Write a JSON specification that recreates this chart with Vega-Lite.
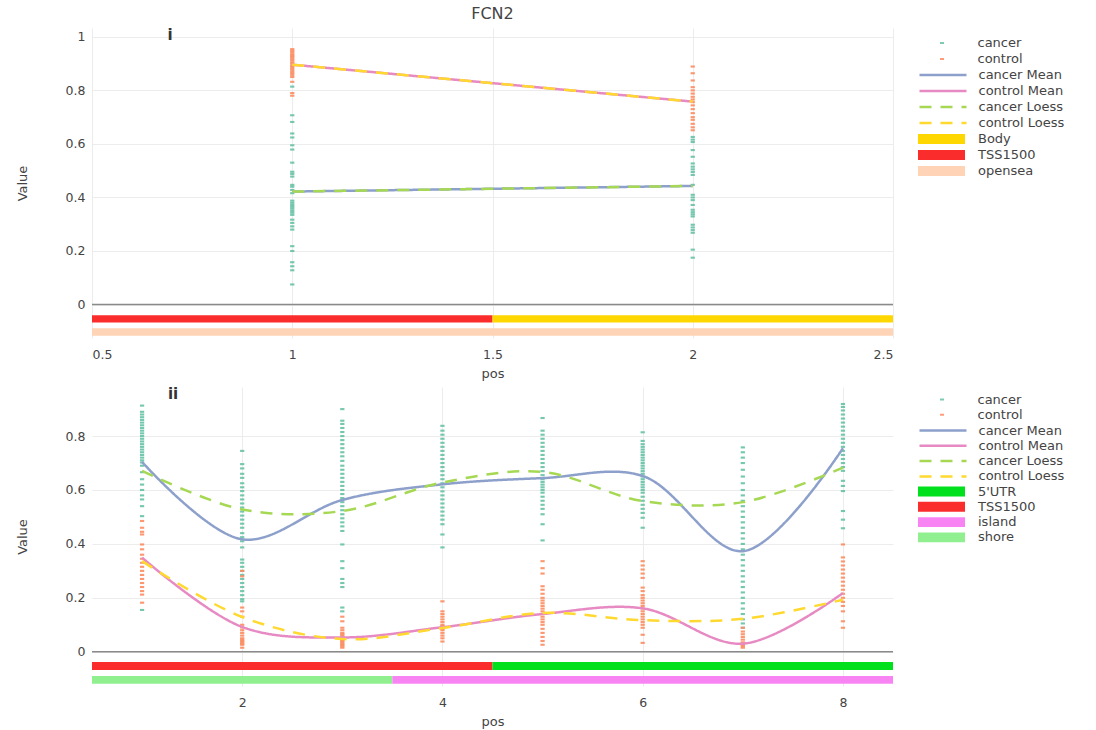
{
  "$schema": "https://vega.github.io/schema/vega-lite/v6.json",
  "background": "white",
  "padding": {"left": 16, "top": 5, "right": 0, "bottom": 0},
  "spacing": 6,
  "config": {
    "view": {"stroke": null},
    "font": "DejaVu Sans",
    "axis": {"labelFont": "DejaVu Sans", "labelFontSize": 12.5, "labelColor": "#444", "titleFont": "DejaVu Sans", "titleFontSize": 13, "titleFontWeight": "normal", "titleColor": "#444", "gridColor": "#ececec", "gridWidth": 1, "domain": false, "ticks": false},
    "axisY": {"labelPadding": 7, "titlePadding": 36},
    "axisX": {"labelPadding": 10, "titlePadding": 7},
    "legend": {"labelFont": "DejaVu Sans", "labelFontSize": 13, "labelColor": "#444", "padding": 0, "offset": 25, "rowPadding": 0, "orient": "right", "layout": {"right": {"margin": 0, "anchor": "start", "direction": "vertical"}}}
  },
  "vconcat": [
    {
      "width": 801,
      "height": 310,
      "title": {"text": "FCN2", "anchor": "middle", "frame": "group", "fontSize": 16, "fontWeight": "normal", "color": "#444", "font": "DejaVu Sans", "offset": 6},
      "resolve": {"scale": {"color": "independent", "strokeDash": "independent"}, "legend": {"color": "independent", "strokeDash": "independent"}},
      "encoding": {
        "x": {"type": "quantitative", "scale": {"domain": [0.5, 2.5], "nice": false, "zero": false}, "axis": {"title": "pos", "values": [0.5, 1, 1.5, 2, 2.5], "format": "~g"}},
        "y": {"type": "quantitative", "scale": {"domain": [-0.125, 1.033], "nice": false, "zero": false}, "axis": {"title": "Value", "values": [0, 0.2, 0.4, 0.6, 0.8, 1], "format": "~g"}}
      },
      "layer": [
        {
          "data": {"values": [{"z": 0}]},
          "mark": {"type": "rule", "color": "#8a8a8a", "strokeWidth": 1.5},
          "encoding": {"y": {"field": "z", "type": "quantitative"}}
        },
        {
          "data": {"values": [
            {"p":1,"g":"control","v":0.954},{"p":1,"g":"control","v":0.948},{"p":1,"g":"control","v":0.942},{"p":1,"g":"control","v":0.935},{"p":1,"g":"control","v":0.93},{"p":1,"g":"control","v":0.925},{"p":1,"g":"control","v":0.918},{"p":1,"g":"control","v":0.912},{"p":1,"g":"control","v":0.905},{"p":1,"g":"control","v":0.9},{"p":1,"g":"control","v":0.893},{"p":1,"g":"control","v":0.887},{"p":1,"g":"control","v":0.88},{"p":1,"g":"control","v":0.872},{"p":1,"g":"control","v":0.865},{"p":1,"g":"control","v":0.858},{"p":1,"g":"control","v":0.85},{"p":1,"g":"control","v":0.832},{"p":1,"g":"control","v":0.79},{"p":1,"g":"control","v":0.78},
            {"p":1,"g":"cancer","v":0.814},{"p":1,"g":"cancer","v":0.707},{"p":1,"g":"cancer","v":0.682},{"p":1,"g":"cancer","v":0.639},{"p":1,"g":"cancer","v":0.624},{"p":1,"g":"cancer","v":0.595},{"p":1,"g":"cancer","v":0.579},{"p":1,"g":"cancer","v":0.53},{"p":1,"g":"cancer","v":0.496},{"p":1,"g":"cancer","v":0.488},{"p":1,"g":"cancer","v":0.478},{"p":1,"g":"cancer","v":0.447},{"p":1,"g":"cancer","v":0.44},{"p":1,"g":"cancer","v":0.428},{"p":1,"g":"cancer","v":0.416},{"p":1,"g":"cancer","v":0.388},{"p":1,"g":"cancer","v":0.38},{"p":1,"g":"cancer","v":0.372},{"p":1,"g":"cancer","v":0.365},{"p":1,"g":"cancer","v":0.358},{"p":1,"g":"cancer","v":0.35},{"p":1,"g":"cancer","v":0.343},{"p":1,"g":"cancer","v":0.335},{"p":1,"g":"cancer","v":0.317},{"p":1,"g":"cancer","v":0.305},{"p":1,"g":"cancer","v":0.292},{"p":1,"g":"cancer","v":0.28},{"p":1,"g":"cancer","v":0.218},{"p":1,"g":"cancer","v":0.2},{"p":1,"g":"cancer","v":0.158},{"p":1,"g":"cancer","v":0.143},{"p":1,"g":"cancer","v":0.128},{"p":1,"g":"cancer","v":0.075},
            {"p":2,"g":"control","v":0.889},{"p":2,"g":"control","v":0.864},{"p":2,"g":"control","v":0.837},{"p":2,"g":"control","v":0.812},{"p":2,"g":"control","v":0.8},{"p":2,"g":"control","v":0.788},{"p":2,"g":"control","v":0.776},{"p":2,"g":"control","v":0.766},{"p":2,"g":"control","v":0.756},{"p":2,"g":"control","v":0.744},{"p":2,"g":"control","v":0.73},{"p":2,"g":"control","v":0.715},{"p":2,"g":"control","v":0.7},{"p":2,"g":"control","v":0.69},{"p":2,"g":"control","v":0.675},{"p":2,"g":"control","v":0.662},{"p":2,"g":"control","v":0.651},
            {"p":2,"g":"cancer","v":0.626},{"p":2,"g":"cancer","v":0.616},{"p":2,"g":"cancer","v":0.607},{"p":2,"g":"cancer","v":0.577},{"p":2,"g":"cancer","v":0.552},{"p":2,"g":"cancer","v":0.527},{"p":2,"g":"cancer","v":0.515},{"p":2,"g":"cancer","v":0.505},{"p":2,"g":"cancer","v":0.495},{"p":2,"g":"cancer","v":0.484},{"p":2,"g":"cancer","v":0.447},{"p":2,"g":"cancer","v":0.41},{"p":2,"g":"cancer","v":0.4},{"p":2,"g":"cancer","v":0.39},{"p":2,"g":"cancer","v":0.372},{"p":2,"g":"cancer","v":0.354},{"p":2,"g":"cancer","v":0.345},{"p":2,"g":"cancer","v":0.337},{"p":2,"g":"cancer","v":0.329},{"p":2,"g":"cancer","v":0.298},{"p":2,"g":"cancer","v":0.288},{"p":2,"g":"cancer","v":0.278},{"p":2,"g":"cancer","v":0.268},{"p":2,"g":"cancer","v":0.205},{"p":2,"g":"cancer","v":0.175}
          ]},
          "mark": {"type": "point", "shape": "M-1,-0.5H1V0.5H-1Z", "filled": true, "size": 18, "opacity": 0.9},
          "encoding": {
            "x": {"field": "p", "type": "quantitative"},
            "y": {"field": "v", "type": "quantitative"},
            "color": {"field": "g", "type": "nominal", "scale": {"domain": ["cancer", "control"], "range": ["#66c2a5", "#fc8d62"]}, "legend": {"title": " ", "titleFontSize": 1, "titlePadding": 6, "symbolType": "M-1,-0.5H1V0.5H-1Z", "symbolSize": 16, "clipHeight": 16, "symbolOffset": 17.5, "labelOffset": 29, "symbolOpacity": 0.85}}
          }
        },
        {
          "data": {"values": [
            {"p":1,"s":"cancer Mean","v":0.422},{"p":2,"s":"cancer Mean","v":0.443},
            {"p":1,"s":"control Mean","v":0.896},{"p":2,"s":"control Mean","v":0.758},
            {"p":1,"s":"cancer Loess","v":0.422},{"p":2,"s":"cancer Loess","v":0.443},
            {"p":1,"s":"control Loess","v":0.896},{"p":2,"s":"control Loess","v":0.758}
          ]},
          "mark": {"type": "line", "strokeWidth": 2.5},
          "encoding": {
            "x": {"field": "p", "type": "quantitative"},
            "y": {"field": "v", "type": "quantitative"},
            "color": {"field": "s", "type": "nominal", "sort": null, "scale": {"domain": ["cancer Mean", "control Mean", "cancer Loess", "control Loess"], "range": ["#8da0cb", "#e78ac3", "#a6d854", "#ffd92f"]}, "legend": {"title": null, "symbolType": "stroke", "symbolSize": 2209, "symbolStrokeWidth": 2.5, "clipHeight": 16, "labelOffset": 10.5}},
            "strokeDash": {"field": "s", "type": "nominal", "sort": null, "scale": {"domain": ["cancer Mean", "control Mean", "cancer Loess", "control Loess"], "range": [[1, 0], [1, 0], [12, 9], [12, 9]]}, "legend": {"title": null, "symbolType": "stroke", "symbolSize": 2209, "symbolStrokeWidth": 2.5, "clipHeight": 16, "labelOffset": 10.5}}
          }
        },
        {
          "data": {"values": [
            {"x1":0.5,"x2":1.5,"y1":-0.04,"y2":-0.067,"r":"TSS1500"},
            {"x1":1.5,"x2":2.5,"y1":-0.04,"y2":-0.067,"r":"Body"},
            {"x1":0.5,"x2":2.5,"y1":-0.089,"y2":-0.117,"r":"opensea"}
          ]},
          "mark": {"type": "rect"},
          "encoding": {
            "x": {"field": "x1", "type": "quantitative"},
            "x2": {"field": "x2"},
            "y": {"field": "y1", "type": "quantitative"},
            "y2": {"field": "y2"},
            "color": {"field": "r", "type": "nominal", "scale": {"domain": ["Body", "TSS1500", "opensea"], "range": ["#ffd700", "#fb2c2c", "#ffd3b6"]}, "legend": {"title": null, "symbolType": "M-1,-0.21H1V0.21H-1Z", "symbolSize": 2209, "symbolStrokeWidth": 0, "clipHeight": 16, "labelOffset": 13}}
          }
        },
        {
          "data": {"values": [{"x": 0.695, "y": 1.008, "t": "i"}]},
          "mark": {"type": "text", "fontWeight": "bold", "fontSize": 15, "color": "#333", "baseline": "middle", "align": "center"},
          "encoding": {"x": {"field": "x", "type": "quantitative"}, "y": {"field": "y", "type": "quantitative"}, "text": {"field": "t"}}
        }
      ]
    },
    {
      "width": 801,
      "height": 299,
      "resolve": {"scale": {"color": "independent", "strokeDash": "independent"}, "legend": {"color": "independent", "strokeDash": "independent"}},
      "encoding": {
        "x": {"type": "quantitative", "scale": {"domain": [0.5, 8.5], "nice": false, "zero": false}, "axis": {"title": "pos", "values": [2, 4, 6, 8], "format": "~g"}},
        "y": {"type": "quantitative", "scale": {"domain": [-0.127, 0.982], "nice": false, "zero": false}, "axis": {"title": "Value", "values": [0, 0.2, 0.4, 0.6, 0.8], "format": "~g"}}
      },
      "layer": [
        {
          "data": {"values": [{"z": 0}]},
          "mark": {"type": "rule", "color": "#8a8a8a", "strokeWidth": 1.5},
          "encoding": {"y": {"field": "z", "type": "quantitative"}}
        },
        {
          "data": {"values": [
            {"p":1,"g":"cancer","v":0.913},{"p":1,"g":"cancer","v":0.89},{"p":1,"g":"cancer","v":0.88},{"p":1,"g":"cancer","v":0.87},{"p":1,"g":"cancer","v":0.86},{"p":1,"g":"cancer","v":0.85},{"p":1,"g":"cancer","v":0.84},{"p":1,"g":"cancer","v":0.83},{"p":1,"g":"cancer","v":0.82},{"p":1,"g":"cancer","v":0.81},{"p":1,"g":"cancer","v":0.8},{"p":1,"g":"cancer","v":0.79},{"p":1,"g":"cancer","v":0.78},{"p":1,"g":"cancer","v":0.77},{"p":1,"g":"cancer","v":0.76},{"p":1,"g":"cancer","v":0.75},{"p":1,"g":"cancer","v":0.74},{"p":1,"g":"cancer","v":0.73},{"p":1,"g":"cancer","v":0.72},{"p":1,"g":"cancer","v":0.71},{"p":1,"g":"cancer","v":0.702},{"p":1,"g":"cancer","v":0.69},{"p":1,"g":"cancer","v":0.666},{"p":1,"g":"cancer","v":0.64},{"p":1,"g":"cancer","v":0.62},{"p":1,"g":"cancer","v":0.6},{"p":1,"g":"cancer","v":0.58},{"p":1,"g":"cancer","v":0.565},{"p":1,"g":"cancer","v":0.54},{"p":1,"g":"cancer","v":0.503},{"p":1,"g":"cancer","v":0.155},
            {"p":1,"g":"control","v":0.485},{"p":1,"g":"control","v":0.46},{"p":1,"g":"control","v":0.445},{"p":1,"g":"control","v":0.435},{"p":1,"g":"control","v":0.398},{"p":1,"g":"control","v":0.38},{"p":1,"g":"control","v":0.36},{"p":1,"g":"control","v":0.345},{"p":1,"g":"control","v":0.33},{"p":1,"g":"control","v":0.315},{"p":1,"g":"control","v":0.3},{"p":1,"g":"control","v":0.285},{"p":1,"g":"control","v":0.27},{"p":1,"g":"control","v":0.255},{"p":1,"g":"control","v":0.24},{"p":1,"g":"control","v":0.225},{"p":1,"g":"control","v":0.212},{"p":1,"g":"control","v":0.182},
            {"p":2,"g":"cancer","v":0.745},{"p":2,"g":"cancer","v":0.696},{"p":2,"g":"cancer","v":0.68},{"p":2,"g":"cancer","v":0.66},{"p":2,"g":"cancer","v":0.645},{"p":2,"g":"cancer","v":0.625},{"p":2,"g":"cancer","v":0.61},{"p":2,"g":"cancer","v":0.596},{"p":2,"g":"cancer","v":0.58},{"p":2,"g":"cancer","v":0.565},{"p":2,"g":"cancer","v":0.55},{"p":2,"g":"cancer","v":0.535},{"p":2,"g":"cancer","v":0.52},{"p":2,"g":"cancer","v":0.505},{"p":2,"g":"cancer","v":0.49},{"p":2,"g":"cancer","v":0.475},{"p":2,"g":"cancer","v":0.46},{"p":2,"g":"cancer","v":0.44},{"p":2,"g":"cancer","v":0.425},{"p":2,"g":"cancer","v":0.41},{"p":2,"g":"cancer","v":0.387},{"p":2,"g":"cancer","v":0.342},{"p":2,"g":"cancer","v":0.33},{"p":2,"g":"cancer","v":0.315},{"p":2,"g":"cancer","v":0.3},{"p":2,"g":"cancer","v":0.285},{"p":2,"g":"cancer","v":0.27},{"p":2,"g":"cancer","v":0.255},{"p":2,"g":"cancer","v":0.24},{"p":2,"g":"cancer","v":0.225},{"p":2,"g":"cancer","v":0.21},{"p":2,"g":"cancer","v":0.195},{"p":2,"g":"cancer","v":0.187},
            {"p":2,"g":"control","v":0.3},{"p":2,"g":"control","v":0.28},{"p":2,"g":"control","v":0.164},{"p":2,"g":"control","v":0.15},{"p":2,"g":"control","v":0.13},{"p":2,"g":"control","v":0.1},{"p":2,"g":"control","v":0.09},{"p":2,"g":"control","v":0.08},{"p":2,"g":"control","v":0.07},{"p":2,"g":"control","v":0.06},{"p":2,"g":"control","v":0.05},{"p":2,"g":"control","v":0.045},{"p":2,"g":"control","v":0.04},{"p":2,"g":"control","v":0.035},{"p":2,"g":"control","v":0.03},{"p":2,"g":"control","v":0.026},{"p":2,"g":"control","v":0.015},
            {"p":3,"g":"cancer","v":0.9},{"p":3,"g":"cancer","v":0.857},{"p":3,"g":"cancer","v":0.845},{"p":3,"g":"cancer","v":0.83},{"p":3,"g":"cancer","v":0.815},{"p":3,"g":"cancer","v":0.8},{"p":3,"g":"cancer","v":0.785},{"p":3,"g":"cancer","v":0.77},{"p":3,"g":"cancer","v":0.755},{"p":3,"g":"cancer","v":0.74},{"p":3,"g":"cancer","v":0.725},{"p":3,"g":"cancer","v":0.708},{"p":3,"g":"cancer","v":0.69},{"p":3,"g":"cancer","v":0.675},{"p":3,"g":"cancer","v":0.66},{"p":3,"g":"cancer","v":0.645},{"p":3,"g":"cancer","v":0.63},{"p":3,"g":"cancer","v":0.615},{"p":3,"g":"cancer","v":0.6},{"p":3,"g":"cancer","v":0.585},{"p":3,"g":"cancer","v":0.57},{"p":3,"g":"cancer","v":0.555},{"p":3,"g":"cancer","v":0.54},{"p":3,"g":"cancer","v":0.525},{"p":3,"g":"cancer","v":0.51},{"p":3,"g":"cancer","v":0.495},{"p":3,"g":"cancer","v":0.48},{"p":3,"g":"cancer","v":0.465},{"p":3,"g":"cancer","v":0.448},{"p":3,"g":"cancer","v":0.398},{"p":3,"g":"cancer","v":0.336},{"p":3,"g":"cancer","v":0.31},{"p":3,"g":"cancer","v":0.27},{"p":3,"g":"cancer","v":0.255},{"p":3,"g":"cancer","v":0.24},{"p":3,"g":"cancer","v":0.164},{"p":3,"g":"cancer","v":0.15},
            {"p":3,"g":"control","v":0.13},{"p":3,"g":"control","v":0.113},{"p":3,"g":"control","v":0.089},{"p":3,"g":"control","v":0.08},{"p":3,"g":"control","v":0.07},{"p":3,"g":"control","v":0.065},{"p":3,"g":"control","v":0.06},{"p":3,"g":"control","v":0.055},{"p":3,"g":"control","v":0.05},{"p":3,"g":"control","v":0.045},{"p":3,"g":"control","v":0.04},{"p":3,"g":"control","v":0.035},{"p":3,"g":"control","v":0.03},{"p":3,"g":"control","v":0.025},{"p":3,"g":"control","v":0.02},{"p":3,"g":"control","v":0.015},
            {"p":4,"g":"cancer","v":0.838},{"p":4,"g":"cancer","v":0.82},{"p":4,"g":"cancer","v":0.805},{"p":4,"g":"cancer","v":0.79},{"p":4,"g":"cancer","v":0.775},{"p":4,"g":"cancer","v":0.76},{"p":4,"g":"cancer","v":0.745},{"p":4,"g":"cancer","v":0.73},{"p":4,"g":"cancer","v":0.715},{"p":4,"g":"cancer","v":0.7},{"p":4,"g":"cancer","v":0.685},{"p":4,"g":"cancer","v":0.67},{"p":4,"g":"cancer","v":0.655},{"p":4,"g":"cancer","v":0.64},{"p":4,"g":"cancer","v":0.625},{"p":4,"g":"cancer","v":0.61},{"p":4,"g":"cancer","v":0.595},{"p":4,"g":"cancer","v":0.58},{"p":4,"g":"cancer","v":0.565},{"p":4,"g":"cancer","v":0.55},{"p":4,"g":"cancer","v":0.535},{"p":4,"g":"cancer","v":0.52},{"p":4,"g":"cancer","v":0.505},{"p":4,"g":"cancer","v":0.49},{"p":4,"g":"cancer","v":0.473},{"p":4,"g":"cancer","v":0.435},{"p":4,"g":"cancer","v":0.387},
            {"p":4,"g":"control","v":0.187},{"p":4,"g":"control","v":0.15},{"p":4,"g":"control","v":0.14},{"p":4,"g":"control","v":0.13},{"p":4,"g":"control","v":0.12},{"p":4,"g":"control","v":0.11},{"p":4,"g":"control","v":0.1},{"p":4,"g":"control","v":0.095},{"p":4,"g":"control","v":0.09},{"p":4,"g":"control","v":0.085},{"p":4,"g":"control","v":0.08},{"p":4,"g":"control","v":0.07},{"p":4,"g":"control","v":0.06},{"p":4,"g":"control","v":0.05},{"p":4,"g":"control","v":0.038},
            {"p":5,"g":"cancer","v":0.867},{"p":5,"g":"cancer","v":0.82},{"p":5,"g":"cancer","v":0.805},{"p":5,"g":"cancer","v":0.79},{"p":5,"g":"cancer","v":0.775},{"p":5,"g":"cancer","v":0.76},{"p":5,"g":"cancer","v":0.745},{"p":5,"g":"cancer","v":0.73},{"p":5,"g":"cancer","v":0.715},{"p":5,"g":"cancer","v":0.7},{"p":5,"g":"cancer","v":0.685},{"p":5,"g":"cancer","v":0.67},{"p":5,"g":"cancer","v":0.655},{"p":5,"g":"cancer","v":0.64},{"p":5,"g":"cancer","v":0.63},{"p":5,"g":"cancer","v":0.62},{"p":5,"g":"cancer","v":0.61},{"p":5,"g":"cancer","v":0.6},{"p":5,"g":"cancer","v":0.59},{"p":5,"g":"cancer","v":0.575},{"p":5,"g":"cancer","v":0.56},{"p":5,"g":"cancer","v":0.545},{"p":5,"g":"cancer","v":0.53},{"p":5,"g":"cancer","v":0.51},{"p":5,"g":"cancer","v":0.473},{"p":5,"g":"cancer","v":0.413},
            {"p":5,"g":"control","v":0.336},{"p":5,"g":"control","v":0.31},{"p":5,"g":"control","v":0.29},{"p":5,"g":"control","v":0.243},{"p":5,"g":"control","v":0.23},{"p":5,"g":"control","v":0.215},{"p":5,"g":"control","v":0.2},{"p":5,"g":"control","v":0.19},{"p":5,"g":"control","v":0.18},{"p":5,"g":"control","v":0.17},{"p":5,"g":"control","v":0.16},{"p":5,"g":"control","v":0.15},{"p":5,"g":"control","v":0.14},{"p":5,"g":"control","v":0.13},{"p":5,"g":"control","v":0.12},{"p":5,"g":"control","v":0.11},{"p":5,"g":"control","v":0.1},{"p":5,"g":"control","v":0.085},{"p":5,"g":"control","v":0.07},{"p":5,"g":"control","v":0.055},{"p":5,"g":"control","v":0.04},{"p":5,"g":"control","v":0.026},
            {"p":6,"g":"cancer","v":0.814},{"p":6,"g":"cancer","v":0.782},{"p":6,"g":"cancer","v":0.77},{"p":6,"g":"cancer","v":0.76},{"p":6,"g":"cancer","v":0.75},{"p":6,"g":"cancer","v":0.74},{"p":6,"g":"cancer","v":0.73},{"p":6,"g":"cancer","v":0.72},{"p":6,"g":"cancer","v":0.71},{"p":6,"g":"cancer","v":0.7},{"p":6,"g":"cancer","v":0.69},{"p":6,"g":"cancer","v":0.68},{"p":6,"g":"cancer","v":0.67},{"p":6,"g":"cancer","v":0.66},{"p":6,"g":"cancer","v":0.65},{"p":6,"g":"cancer","v":0.64},{"p":6,"g":"cancer","v":0.63},{"p":6,"g":"cancer","v":0.62},{"p":6,"g":"cancer","v":0.61},{"p":6,"g":"cancer","v":0.6},{"p":6,"g":"cancer","v":0.59},{"p":6,"g":"cancer","v":0.575},{"p":6,"g":"cancer","v":0.56},{"p":6,"g":"cancer","v":0.545},{"p":6,"g":"cancer","v":0.53},{"p":6,"g":"cancer","v":0.515},{"p":6,"g":"cancer","v":0.497},{"p":6,"g":"cancer","v":0.46},
            {"p":6,"g":"control","v":0.336},{"p":6,"g":"control","v":0.32},{"p":6,"g":"control","v":0.305},{"p":6,"g":"control","v":0.29},{"p":6,"g":"control","v":0.274},{"p":6,"g":"control","v":0.238},{"p":6,"g":"control","v":0.225},{"p":6,"g":"control","v":0.21},{"p":6,"g":"control","v":0.2},{"p":6,"g":"control","v":0.19},{"p":6,"g":"control","v":0.18},{"p":6,"g":"control","v":0.17},{"p":6,"g":"control","v":0.16},{"p":6,"g":"control","v":0.15},{"p":6,"g":"control","v":0.14},{"p":6,"g":"control","v":0.13},{"p":6,"g":"control","v":0.12},{"p":6,"g":"control","v":0.11},{"p":6,"g":"control","v":0.1},{"p":6,"g":"control","v":0.089},{"p":6,"g":"control","v":0.063},{"p":6,"g":"control","v":0.033},
            {"p":7,"g":"cancer","v":0.758},{"p":7,"g":"cancer","v":0.74},{"p":7,"g":"cancer","v":0.72},{"p":7,"g":"cancer","v":0.7},{"p":7,"g":"cancer","v":0.675},{"p":7,"g":"cancer","v":0.65},{"p":7,"g":"cancer","v":0.625},{"p":7,"g":"cancer","v":0.6},{"p":7,"g":"cancer","v":0.58},{"p":7,"g":"cancer","v":0.56},{"p":7,"g":"cancer","v":0.54},{"p":7,"g":"cancer","v":0.52},{"p":7,"g":"cancer","v":0.5},{"p":7,"g":"cancer","v":0.48},{"p":7,"g":"cancer","v":0.46},{"p":7,"g":"cancer","v":0.44},{"p":7,"g":"cancer","v":0.42},{"p":7,"g":"cancer","v":0.4},{"p":7,"g":"cancer","v":0.38},{"p":7,"g":"cancer","v":0.36},{"p":7,"g":"cancer","v":0.34},{"p":7,"g":"cancer","v":0.32},{"p":7,"g":"cancer","v":0.3},{"p":7,"g":"cancer","v":0.28},{"p":7,"g":"cancer","v":0.26},{"p":7,"g":"cancer","v":0.24},{"p":7,"g":"cancer","v":0.22},{"p":7,"g":"cancer","v":0.2},{"p":7,"g":"cancer","v":0.18},{"p":7,"g":"cancer","v":0.16},{"p":7,"g":"cancer","v":0.14},{"p":7,"g":"cancer","v":0.12},{"p":7,"g":"cancer","v":0.105},{"p":7,"g":"cancer","v":0.089},
            {"p":7,"g":"control","v":0.089},{"p":7,"g":"control","v":0.075},{"p":7,"g":"control","v":0.065},{"p":7,"g":"control","v":0.055},{"p":7,"g":"control","v":0.045},{"p":7,"g":"control","v":0.035},{"p":7,"g":"control","v":0.03},{"p":7,"g":"control","v":0.025},{"p":7,"g":"control","v":0.02},{"p":7,"g":"control","v":0.015},
            {"p":8,"g":"cancer","v":0.919},{"p":8,"g":"cancer","v":0.908},{"p":8,"g":"cancer","v":0.895},{"p":8,"g":"cancer","v":0.88},{"p":8,"g":"cancer","v":0.865},{"p":8,"g":"cancer","v":0.85},{"p":8,"g":"cancer","v":0.835},{"p":8,"g":"cancer","v":0.82},{"p":8,"g":"cancer","v":0.805},{"p":8,"g":"cancer","v":0.79},{"p":8,"g":"cancer","v":0.775},{"p":8,"g":"cancer","v":0.76},{"p":8,"g":"cancer","v":0.745},{"p":8,"g":"cancer","v":0.73},{"p":8,"g":"cancer","v":0.715},{"p":8,"g":"cancer","v":0.7},{"p":8,"g":"cancer","v":0.685},{"p":8,"g":"cancer","v":0.671},{"p":8,"g":"cancer","v":0.634},{"p":8,"g":"cancer","v":0.615},{"p":8,"g":"cancer","v":0.596},{"p":8,"g":"cancer","v":0.522},{"p":8,"g":"cancer","v":0.49},{"p":8,"g":"cancer","v":0.458},
            {"p":8,"g":"control","v":0.398},{"p":8,"g":"control","v":0.35},{"p":8,"g":"control","v":0.335},{"p":8,"g":"control","v":0.32},{"p":8,"g":"control","v":0.305},{"p":8,"g":"control","v":0.29},{"p":8,"g":"control","v":0.275},{"p":8,"g":"control","v":0.26},{"p":8,"g":"control","v":0.245},{"p":8,"g":"control","v":0.23},{"p":8,"g":"control","v":0.215},{"p":8,"g":"control","v":0.2},{"p":8,"g":"control","v":0.185},{"p":8,"g":"control","v":0.17},{"p":8,"g":"control","v":0.15},{"p":8,"g":"control","v":0.113},{"p":8,"g":"control","v":0.089}
          ]},
          "mark": {"type": "point", "shape": "M-1,-0.5H1V0.5H-1Z", "filled": true, "size": 18, "opacity": 0.9},
          "encoding": {
            "x": {"field": "p", "type": "quantitative"},
            "y": {"field": "v", "type": "quantitative"},
            "color": {"field": "g", "type": "nominal", "scale": {"domain": ["cancer", "control"], "range": ["#66c2a5", "#fc8d62"]}, "legend": {"title": " ", "titleFontSize": 1, "titlePadding": 4, "symbolType": "M-1,-0.5H1V0.5H-1Z", "symbolSize": 16, "clipHeight": 15, "rowPadding": 0.3, "symbolOffset": 17.5, "labelOffset": 29, "symbolOpacity": 0.85}}
          }
        },
        {
          "data": {"values": [
            {"p":1,"s":"cancer Mean","v":0.704},{"p":2,"s":"cancer Mean","v":0.417},{"p":3,"s":"cancer Mean","v":0.563},{"p":4,"s":"cancer Mean","v":0.621},{"p":5,"s":"cancer Mean","v":0.644},{"p":6,"s":"cancer Mean","v":0.652},{"p":7,"s":"cancer Mean","v":0.373},{"p":8,"s":"cancer Mean","v":0.755},
            {"p":1,"s":"control Mean","v":0.349},{"p":2,"s":"control Mean","v":0.092},{"p":3,"s":"control Mean","v":0.053},{"p":4,"s":"control Mean","v":0.091},{"p":5,"s":"control Mean","v":0.14},{"p":6,"s":"control Mean","v":0.161},{"p":7,"s":"control Mean","v":0.03},{"p":8,"s":"control Mean","v":0.218},
            {"p":1,"s":"cancer Loess","v":0.671},{"p":2,"s":"cancer Loess","v":0.528},{"p":3,"s":"cancer Loess","v":0.522},{"p":4,"s":"cancer Loess","v":0.628},{"p":5,"s":"cancer Loess","v":0.667},{"p":6,"s":"cancer Loess","v":0.559},{"p":7,"s":"cancer Loess","v":0.555},{"p":8,"s":"cancer Loess","v":0.683},
            {"p":1,"s":"control Loess","v":0.336},{"p":2,"s":"control Loess","v":0.129},{"p":3,"s":"control Loess","v":0.047},{"p":4,"s":"control Loess","v":0.088},{"p":5,"s":"control Loess","v":0.144},{"p":6,"s":"control Loess","v":0.117},{"p":7,"s":"control Loess","v":0.122},{"p":8,"s":"control Loess","v":0.193}
          ]},
          "mark": {"type": "line", "strokeWidth": 2.5, "interpolate": "catmull-rom"},
          "encoding": {
            "x": {"field": "p", "type": "quantitative"},
            "y": {"field": "v", "type": "quantitative"},
            "color": {"field": "s", "type": "nominal", "sort": null, "scale": {"domain": ["cancer Mean", "control Mean", "cancer Loess", "control Loess"], "range": ["#8da0cb", "#e78ac3", "#a6d854", "#ffd92f"]}, "legend": {"title": null, "symbolType": "stroke", "symbolSize": 2209, "symbolStrokeWidth": 2.5, "clipHeight": 15, "rowPadding": 0.3, "labelOffset": 10.5}},
            "strokeDash": {"field": "s", "type": "nominal", "sort": null, "scale": {"domain": ["cancer Mean", "control Mean", "cancer Loess", "control Loess"], "range": [[1, 0], [1, 0], [12, 9], [12, 9]]}, "legend": {"title": null, "symbolType": "stroke", "symbolSize": 2209, "symbolStrokeWidth": 2.5, "clipHeight": 15, "rowPadding": 0.3, "labelOffset": 10.5}}
          }
        },
        {
          "data": {"values": [
            {"x1":0.5,"x2":4.5,"y1":-0.038,"y2":-0.068,"r":"TSS1500"},
            {"x1":4.5,"x2":8.5,"y1":-0.038,"y2":-0.068,"r":"5'UTR"},
            {"x1":0.5,"x2":3.5,"y1":-0.09,"y2":-0.119,"r":"shore"},
            {"x1":3.5,"x2":8.5,"y1":-0.09,"y2":-0.119,"r":"island"}
          ]},
          "mark": {"type": "rect"},
          "encoding": {
            "x": {"field": "x1", "type": "quantitative"},
            "x2": {"field": "x2"},
            "y": {"field": "y1", "type": "quantitative"},
            "y2": {"field": "y2"},
            "color": {"field": "r", "type": "nominal", "scale": {"domain": ["5'UTR", "TSS1500", "island", "shore"], "range": ["#00e01c", "#fb2c2c", "#f884f4", "#90f090"]}, "legend": {"title": null, "symbolType": "M-1,-0.21H1V0.21H-1Z", "symbolSize": 2209, "symbolStrokeWidth": 0, "clipHeight": 15, "rowPadding": 0.3, "labelOffset": 13}}
          }
        },
        {
          "data": {"values": [{"x": 1.31, "y": 0.956, "t": "ii"}]},
          "mark": {"type": "text", "fontWeight": "bold", "fontSize": 15, "color": "#333", "baseline": "middle", "align": "center"},
          "encoding": {"x": {"field": "x", "type": "quantitative"}, "y": {"field": "y", "type": "quantitative"}, "text": {"field": "t"}}
        }
      ]
    }
  ]
}
